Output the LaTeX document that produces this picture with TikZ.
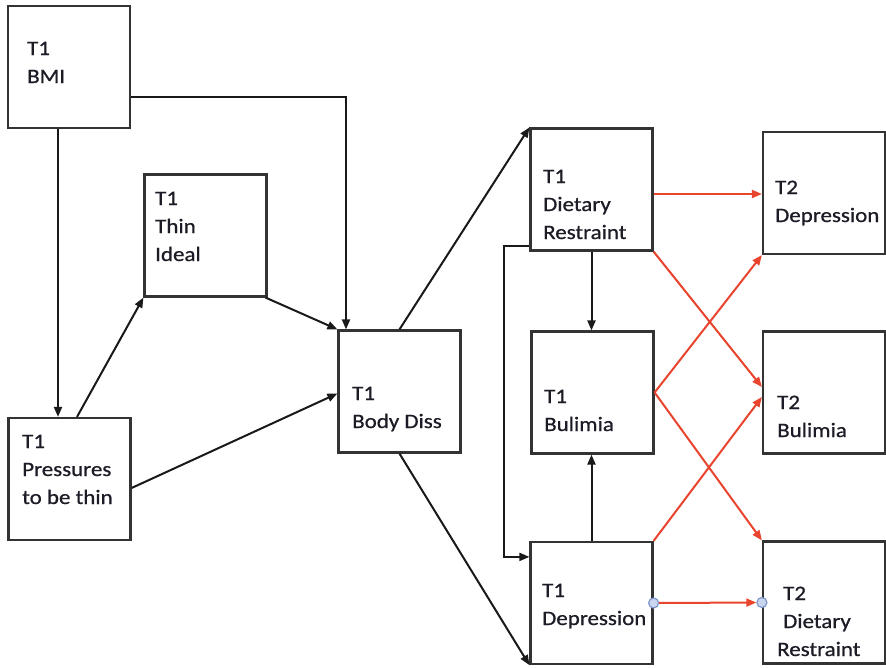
\documentclass[tikz,border=0pt]{standalone}
\usepackage{fontspec}
\setmainfont{Carlito}[FakeStretch=1.12]
\newfontfamily\boxfont{Carlito}[FakeStretch=1.12, FakeBold=0.7]
\usetikzlibrary{arrows.meta}
\definecolor{boxline}{HTML}{333333}
\definecolor{linkred}{HTML}{E8442E}
\definecolor{dotfill}{HTML}{CAD6EF}
\definecolor{dotline}{HTML}{7F97CC}
\definecolor{ink}{HTML}{1C1C26}
\newcommand\mylines[1]{\begin{tabular}[t]{@{}l@{}}#1\end{tabular}}
\begin{document}
\begin{tikzpicture}[x=1pt,y=-1pt,
  box/.style={draw=boxline, line width=2.2pt, minimum width=122pt, minimum height=122pt, inner sep=0pt, fill=white},
  lbl/.style={anchor=base west, inner sep=0pt, font=\boxfont\fontsize{20.5}{28}\selectfont, text=ink},
  link/.style={draw=black!90, line width=2pt, -{Triangle[length=10pt,width=8pt]}},
  rlink/.style={draw=linkred, line width=2pt, -{Triangle[length=10pt,width=8pt]}},
  dot/.style={circle, draw=dotline, fill=dotfill, line width=1.2pt, minimum size=10pt, inner sep=0pt}]

\path[use as bounding box, fill=white] (0,0) rectangle (886,667);

% boxes
\node[box] (bmi)   at (69,67)      {};
\node[box] (thin)  at (205.5,235.5) {};
\node[box] (press) at (69.5,479)   {};
\node[box] (body)  at (399.5,391.5) {};
\node[box] (dr1)   at (591.5,189.5) {};
\node[box] (bul1)  at (592.5,392.5) {};
\node[box] (dep1)  at (591.5,603)  {};
\node[box] (dep2)  at (824,193)    {};
\node[box] (bul2)  at (824,392.5)  {};
\node[box] (dr2)   at (824,602.5)  {};

% box texts
\node[lbl] (bmiT)   at (27,55)   {\mylines{T1\\BMI}};
\node[lbl] (thinT)  at (155,205) {\mylines{T1\\Thin\\Ideal}};
\node[lbl] (pressT) at (22,448)  {\mylines{T1\\Pressures\\to be thin}};
\node[lbl] (bodyT)  at (352,400) {\mylines{T1\\Body Diss}};
\node[lbl] (dr1T)   at (543,183) {\mylines{T1\\Dietary\\Restraint}};
\node[lbl] (bul1T)  at (544,403) {\mylines{T1\\Bulimia}};
\node[lbl] (dep1T)  at (542,597) {\mylines{T1\\Depression}};
\node[lbl] (dep2T)  at (775,194) {\mylines{T2\\Depression}};
\node[lbl] (bul2T)  at (777,409) {\mylines{T2\\Bulimia}};
\node[lbl] (dr2T)   at (777,600) {\mylines{\hspace{6pt}T2\\\hspace{6pt}Dietary\\Restraint}};

% black paths
\draw[link] ([xshift=-11pt]bmi.south) -- ([xshift=-11.5pt]press.north);
\draw[link] ([yshift=-30pt]bmi.east) -| ([xshift=-53.5pt]body.north);
\draw[link] ([xshift=7.5pt]press.north) -- (thin.south west);
\draw[link] ([yshift=-9pt]press.east) -- ([yshift=-2pt]body.west);
\draw[link] ([xshift=-2pt]thin.south east) -- (body.north west);
\draw[link] (body.north) -- (dr1.north west);
\draw[link] (body.south) -- (dep1.south west);
\draw[link] (dr1.south) -- (dr1.south |- bul1.north);
\draw[link] (dep1.north) -- (dep1.north |- bul1.south);
\coordinate (loopA) at ([yshift=6pt]dr1.south west);
\coordinate (loopB) at ([yshift=-16pt]dep1.north west);
\draw[link] (loopA) -- ++(-25,0) |- (loopB);

% red cross-lagged paths
\coordinate (r1) at ([yshift=-4.5pt]dr1.east);
\draw[rlink] (r1) -- (r1 -| dep2.west);
\draw[rlink] (dr1.south east) -- ([yshift=5.5pt]bul2.west);
\draw[rlink] (bul1.east) -- (dep2.south west);
\draw[rlink] (bul1.east) -- (dr2.north west);
\draw[rlink] (dep1.north east) -- ([yshift=-4.5pt]bul2.west);
\node[dot] (d1) at (dep1.east) {};
\node[dot] (d2) at (dr2.west) {};
\draw[rlink] (d1) -- (d2);
\end{tikzpicture}
\end{document}
